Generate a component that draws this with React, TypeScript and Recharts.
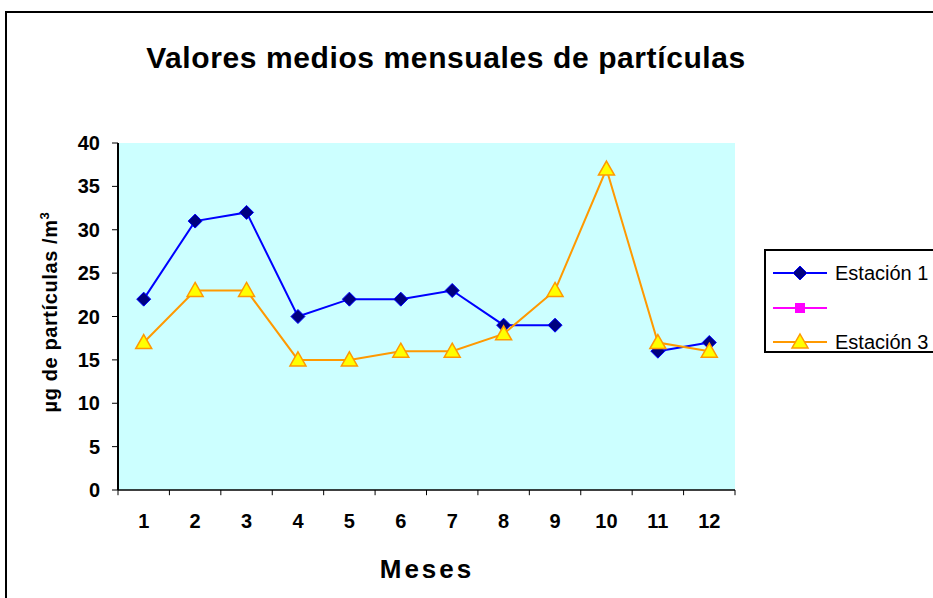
import React from "react";
import { LineChart, Line, XAxis, YAxis, CartesianGrid, ReferenceLine } from "recharts";

const meses = [1, 2, 3, 4, 5, 6, 7, 8, 9, 10, 11, 12];
const estacion1 = [22, 31, 32, 20, 22, 22, 23, 19, 19, null, 16, 17];
const estacion2 = [null, null, null, null, null, null, null, null, null, null, null, null];
const estacion3 = [17, 23, 23, 15, 15, 16, 16, 18, 23, 37, 17, 16];
const nombres = ["Estación 1", "", "Estación 3"];
const yTicks = [0, 5, 10, 15, 20, 25, 30, 35, 40];
const limitesMes = [0.5, 1.5, 2.5, 3.5, 4.5, 5.5, 6.5, 7.5, 8.5, 9.5, 10.5, 11.5, 12.5];

const titulo = "Valores medios mensuales de partículas";
const tituloX = "Meses";

const data = meses.map((m, i) => ({
  mes: m,
  est1: estacion1[i],
  est2: estacion2[i],
  est3: estacion3[i],
}));

const FONT = "'Liberation Sans', Arial, sans-serif";

// marcadores estilo Excel
const Rombo = (p: any) => {
  const { cx, cy, index } = p;
  if (cx == null || cy == null || p.value == null) return <g key={"r" + index} />;
  return (
    <polygon
      key={"r" + index}
      points={`${cx},${cy - 7} ${cx + 7},${cy} ${cx},${cy + 7} ${cx - 7},${cy}`}
      fill="#000080"
      stroke="#0000FF"
      strokeWidth={1}
    />
  );
};

const Cuadro = (p: any) => {
  const { cx, cy, index } = p;
  if (cx == null || cy == null || p.value == null) return <g key={"c" + index} />;
  return <rect key={"c" + index} x={cx - 5} y={cy - 5} width={10} height={10} fill="#FF00FF" />;
};

const Triangulo = (p: any) => {
  const { cx, cy, index } = p;
  if (cx == null || cy == null || p.value == null) return <g key={"t" + index} />;
  return (
    <polygon
      key={"t" + index}
      points={`${cx},${cy - 8} ${cx + 8},${cy + 6} ${cx - 8},${cy + 6}`}
      fill="#FFFF00"
      stroke="#FF9900"
      strokeWidth={1.5}
    />
  );
};

export default function App() {
  const legendRows = [273, 308, 342];
  return (
    <div
      style={{
        position: "absolute",
        left: 0,
        top: 0,
        width: 933,
        height: 598,
        overflow: "hidden",
        background: "#fff",
        fontFamily: FONT,
      }}
    >
      <LineChart
        width={933}
        height={598}
        data={data}
        margin={{ top: 143, right: 198, bottom: 28, left: 38 }}
      >
        <CartesianGrid horizontal={false} vertical={false} fill="#CCFFFF" />
        <XAxis
          dataKey="mes"
          type="number"
          domain={[0.5, 12.5]}
          ticks={meses}
          height={80}
          tickLine={false}
          tickSize={6}
          tickMargin={18}
          axisLine={{ stroke: "#000", strokeWidth: 1.5 }}
          tick={{ fontSize: 20, fontWeight: "bold", fill: "#000", fontFamily: FONT }}
        />
        <YAxis
          width={80}
          domain={[0, 40]}
          ticks={yTicks}
          tickSize={6}
          tickMargin={12}
          axisLine={{ stroke: "#000", strokeWidth: 2 }}
          tickLine={{ stroke: "#000" }}
          tick={{ fontSize: 20, fontWeight: "bold", fill: "#000", fontFamily: FONT }}
        />
        {limitesMes.map((b) => (
          <ReferenceLine
            key={b}
            segment={[
              { x: b, y: 0 },
              { x: b, y: -0.6 },
            ]}
            stroke="#000"
            ifOverflow="visible"
          />
        ))}
        <Line
          type="linear"
          dataKey="est1"
          stroke="#0000FF"
          strokeWidth={2}
          dot={Rombo}
          activeDot={false}
          isAnimationActive={false}
        />
        <Line
          type="linear"
          dataKey="est2"
          stroke="#FF00FF"
          strokeWidth={2}
          dot={Cuadro}
          activeDot={false}
          isAnimationActive={false}
        />
        <Line
          type="linear"
          dataKey="est3"
          stroke="#FF9900"
          strokeWidth={2}
          dot={Triangulo}
          activeDot={false}
          isAnimationActive={false}
        />
      </LineChart>

      <svg
        width={933}
        height={598}
        style={{ position: "absolute", left: 0, top: 0, pointerEvents: "none" }}
      >
        {/* marco del gráfico */}
        <rect x={6} y={12} width={1000} height={1000} fill="none" stroke="#000" strokeWidth={2} />
        <text
          x={446}
          y={68}
          textAnchor="middle"
          fontFamily={FONT}
          fontWeight="bold"
          fontSize={30}
          letterSpacing={0.6}
          fill="#000"
        >
          {titulo}
        </text>
        <text
          transform="translate(57,312) rotate(-90)"
          textAnchor="middle"
          fontFamily={FONT}
          fontWeight="bold"
          fontSize={20}
          letterSpacing={0.6}
          fill="#000"
        >
          µg de partículas /m
          <tspan fontSize={13} dy={-8}>
            3
          </tspan>
        </text>
        <text
          x={427}
          y={578}
          textAnchor="middle"
          fontFamily={FONT}
          fontWeight="bold"
          fontSize={26}
          letterSpacing={3}
          fill="#000"
        >
          {tituloX}
        </text>

        {/* leyenda */}
        <rect x={765} y={250} width={200} height={102} fill="#fff" stroke="#000" strokeWidth={2} />
        <line x1={773} x2={827} y1={legendRows[0]} y2={legendRows[0]} stroke="#0000FF" strokeWidth={2} />
        <polygon
          points={`800,${legendRows[0] - 7} 807,${legendRows[0]} 800,${legendRows[0] + 7} 793,${legendRows[0]}`}
          fill="#000080"
          stroke="#0000FF"
        />
        <line x1={773} x2={827} y1={legendRows[1]} y2={legendRows[1]} stroke="#FF00FF" strokeWidth={2} />
        <rect x={795} y={legendRows[1] - 5} width={10} height={10} fill="#FF00FF" />
        <line x1={773} x2={827} y1={legendRows[2]} y2={legendRows[2]} stroke="#FF9900" strokeWidth={2} />
        <polygon
          points={`800,${legendRows[2] - 8} 808,${legendRows[2] + 6} 792,${legendRows[2] + 6}`}
          fill="#FFFF00"
          stroke="#FF9900"
          strokeWidth={1.5}
        />
        {nombres.map((n, i) => (
          <text
            key={i}
            x={835}
            y={legendRows[i] + 7}
            fontFamily={FONT}
            fontSize={20}
            fill="#000"
          >
            {n}
          </text>
        ))}
      </svg>
    </div>
  );
}
